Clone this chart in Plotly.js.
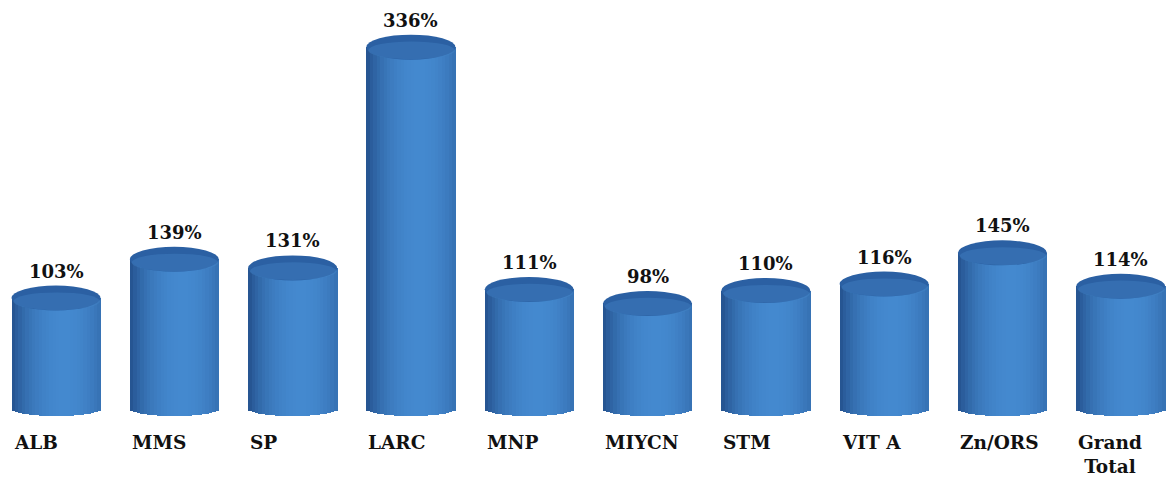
<!DOCTYPE html>
<html>
<head>
<meta charset="utf-8">
<script src="https://cdn.plot.ly/plotly-3.0.1.min.js"></script>
<style>html,body{margin:0;padding:0;background:#fff;}#chart{width:1166px;height:481px;}</style>
</head>
<body>
<div id="chart"></div>
<script>
// ---- data ----
const categories = ['ALB', 'MMS', 'SP', 'LARC', 'MNP', 'MIYCN', 'STM', 'VIT A', 'Zn/ORS', 'Grand<br>Total'];
const values = [103, 139, 131, 336, 111, 98, 110, 116, 145, 114];
const valueLabels = ['103%', '139%', '131%', '336%', '111%', '98%', '110%', '116%', '145%', '114%'];

// ---- geometry / style ----
const W = 0.752;               // bar width (category units)
const pxPerUnit = 1.077;       // vertical px per value unit
const ryTop = 12.5 / pxPerUnit; // top ellipse half-height (value units)
const ryBot = 7 / pxPerUnit;   // bottom ellipse half-height
const N = 26;                  // shading stripes
const dark = [34, 78, 138], light = [68, 137, 207];
const idx = categories.map((c, i) => i);

function shade(t) {
  const d = (t - 0.18) / 1.18;
  const L = Math.pow(Math.max(0, 1 - d * d), 0.8);
  const c = dark.map((a, k) => Math.round(a + (light[k] - a) * L));
  return 'rgb(' + c.join(',') + ')';
}

const traces = [];
for (let s = 0; s < N; s++) {
  const tc = -1 + (2 * s + 1) / N;
  const base = -ryBot * Math.sqrt(Math.max(0, 1 - tc * tc));
  traces.push({
    type: 'bar',
    x: idx,
    y: values.map(v => v - base),
    base: base,
    width: W / N + 0.004,
    offset: -W / 2 + s * W / N,
    marker: {color: shade(tc), line: {width: 0}},
    hoverinfo: 'skip',
    showlegend: false
  });
}

const shapes = [];
values.forEach((v, i) => {
  shapes.push({type: 'circle', xref: 'x', yref: 'y', layer: 'above',
    x0: i - W / 2, x1: i + W / 2, y0: v - ryTop, y1: v + ryTop,
    fillcolor: 'rgb(43,96,163)', line: {width: 0}});
  shapes.push({type: 'circle', xref: 'x', yref: 'y', layer: 'above',
    x0: i - W / 2 * 0.96, x1: i + W / 2 * 0.99, y0: v - ryTop * 0.97, y1: v + ryTop * 0.45,
    fillcolor: 'rgba(72,138,204,0.35)', line: {width: 0}});
});

const annotations = [];
values.forEach((v, i) => {
  annotations.push({x: i, y: v + 27 / pxPerUnit, xref: 'x', yref: 'y',
    text: valueLabels[i], showarrow: false, xanchor: 'center', yanchor: 'middle',
    font: {family: 'DejaVu Serif', size: 18, color: '#111', weight: 700}});
  annotations.push({x: i - W / 2, y: -22 / pxPerUnit, xref: 'x', yref: 'y',
    text: categories[i], showarrow: false, xanchor: 'left', yanchor: 'top', align: 'center',
    xshift: 1, borderpad: 0,
    font: {family: 'DejaVu Serif', size: 18.5, color: '#111', weight: 700}});
});

const layout = {
  width: 1166, height: 481,
  margin: {l: 0, r: 0, t: 0, b: 0},
  paper_bgcolor: '#fff', plot_bgcolor: '#fff',
  barmode: 'overlay', bargap: 0,
  showlegend: false,
  xaxis: {range: [-56 / 118.3, (1166 - 56) / 118.3], visible: false, fixedrange: true},
  yaxis: {range: [-72 / pxPerUnit, 409 / pxPerUnit], visible: false, fixedrange: true},
  shapes: shapes,
  annotations: annotations
};

Plotly.newPlot('chart', traces, layout, {staticPlot: true, displayModeBar: false});
</script>
</body>
</html>
